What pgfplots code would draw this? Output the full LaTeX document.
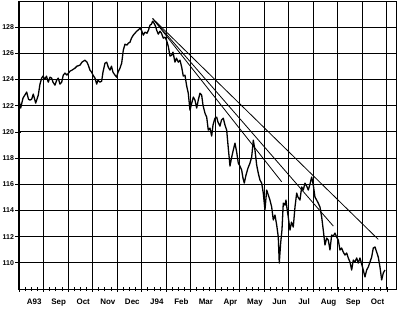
\documentclass[border=0pt]{standalone}
\usepackage{pgfplots}
\pgfplotsset{compat=1.18}
\usepackage{fontspec}
\setmainfont{Liberation Sans}
\pgfplotstableread{
m y
0.000 122.43
0.069 121.82
0.163 122.58
0.314 123.04
0.387 122.50
0.448 122.43
0.518 122.50
0.583 122.89
0.681 122.20
0.787 122.81
0.856 123.65
0.925 124.11
0.978 124.26
1.060 124.03
1.121 124.26
1.194 123.80
1.264 124.18
1.333 124.11
1.386 123.80
1.468 123.57
1.537 123.95
1.602 124.11
1.671 123.65
1.741 123.80
1.806 124.34
1.875 124.49
1.957 124.34
2.079 124.64
2.161 124.72
2.283 124.87
2.364 125.02
2.487 125.10
2.568 125.33
2.691 125.48
2.772 125.33
2.825 125.10
2.894 124.72
2.964 124.56
3.017 124.34
3.098 124.11
3.168 123.65
3.221 123.95
3.302 123.80
3.371 123.88
3.424 124.56
3.506 125.25
3.575 125.33
3.640 124.95
3.710 124.72
3.771 125.02
3.832 124.56
3.913 124.34
3.983 124.18
4.036 124.56
4.117 124.87
4.187 125.25
4.252 126.24
4.321 126.70
4.403 126.63
4.456 126.78
4.525 126.85
4.586 127.16
4.659 127.39
4.729 127.54
4.798 127.69
4.851 127.77
4.933 127.92
4.994 127.77
5.067 127.39
5.136 127.62
5.218 127.54
5.279 127.77
5.340 128.15
5.401 128.23
5.450 128.46
5.503 128.31
5.565 128.08
5.613 127.77
5.679 127.47
5.748 127.69
5.809 127.54
5.883 127.16
5.952 127.24
6.013 127.01
6.086 126.55
6.156 125.79
6.225 125.86
6.278 126.09
6.360 125.33
6.421 125.63
6.494 125.33
6.563 125.48
6.633 124.95
6.698 124.26
6.767 124.34
6.837 123.50
6.902 122.96
6.971 121.66
7.032 122.12
7.106 122.66
7.175 122.43
7.244 121.82
7.309 122.43
7.379 122.96
7.448 122.81
7.501 122.05
7.582 121.43
7.652 121.13
7.717 120.14
7.786 120.29
7.856 119.68
7.909 120.52
7.990 121.05
8.060 121.13
8.113 120.75
8.194 120.44
8.255 120.90
8.329 121.05
8.398 120.52
8.467 120.14
8.533 118.76
8.602 117.39
8.663 118.00
8.736 118.61
8.806 119.14
8.875 118.46
8.940 117.62
9.009 117.39
9.079 117.08
9.132 116.47
9.185 116.09
9.254 116.70
9.336 117.24
9.417 117.62
9.486 118.08
9.552 119.37
9.621 118.61
9.690 117.47
9.755 116.85
9.825 116.32
9.894 116.09
9.959 115.33
10.028 114.03
10.098 115.56
10.163 115.18
10.232 114.79
10.302 114.26
10.367 113.27
10.436 113.65
10.506 112.89
10.571 111.97
10.611 109.98
10.668 111.51
10.721 112.50
10.775 114.56
10.844 114.41
10.885 114.79
10.925 114.18
10.978 113.50
11.048 112.50
11.109 113.11
11.182 112.73
11.252 114.26
11.321 115.33
11.374 115.02
11.455 114.79
11.525 115.79
11.590 115.56
11.659 116.09
11.729 115.86
11.794 115.56
11.863 116.01
11.932 116.55
11.998 115.94
12.067 115.02
12.136 114.79
12.201 114.56
12.271 114.26
12.340 113.50
12.405 112.50
12.474 111.36
12.544 111.89
12.609 111.74
12.678 110.98
12.747 112.12
12.813 112.04
12.882 112.27
12.951 111.97
13.017 111.74
13.086 110.98
13.155 111.13
13.220 110.82
13.290 110.59
13.359 110.75
13.424 110.37
13.494 110.06
13.563 109.45
13.628 110.21
13.697 110.06
13.767 110.37
13.832 109.98
13.901 110.37
13.970 109.91
14.036 109.45
14.105 108.92
14.174 109.45
14.239 109.68
14.309 110.06
14.378 110.44
14.443 111.13
14.513 111.21
14.582 110.82
14.647 110.44
14.717 109.68
14.786 108.69
14.851 109.22
14.920 109.45
}\price
\begin{document}
\begin{tikzpicture}
\begin{axis}[name=ax,
  width=378bp, height=288bp, scale only axis,
  xmin=-0.04, xmax=15.37, ymin=108, ymax=130,
  axis line style={black, line width=1pt},
  xtick={0,...,15}, xticklabels={},
  minor x tick num=3,
  ytick={110,112,...,128},
  grid=major,
  major grid style={black, line width=0.9pt},
  tick pos=left, tick align=center,
  major tick length=5bp, minor tick length=4bp,
  every tick/.style={black, line width=0.7pt},
  /pgf/number format/assume math mode=true,
  tick label style={font=\bfseries\fontsize{7}{8}\selectfont},
  yticklabel style={xshift=2bp},
  extra x ticks={0.62,1.62,2.62,3.62,4.62,5.62,6.62,7.62,8.62,9.62,10.62,11.62,12.62,13.62,14.62},
  extra x tick labels={A93,Sep,Oct,Nov,Dec,J94,Feb,Mar,Apr,May,Jun,Jul,Aug,Sep,Oct},
  extra x tick style={grid=none, major tick length=0pt,
    tick label style={font=\bfseries\fontsize{8}{9}\selectfont, yshift=-6bp}},
]
\addplot[black, line width=1.3pt, line join=round] table[x=m, y=y] {\price};
\addplot[black, line width=0.8pt] coordinates {(5.45,128.66) (14.647,111.79)};
\addplot[black, line width=0.8pt] coordinates {(5.45,128.66) (12.813,112.81)};
\addplot[black, line width=0.8pt] coordinates {(5.45,128.66) (10.709,116.19)};
\end{axis}
\pgfresetboundingbox
\path ([xshift=-18bp,yshift=-24bp]ax.south west) rectangle ([xshift=3bp,yshift=1bp]ax.north east);
\end{tikzpicture}
\end{document}
